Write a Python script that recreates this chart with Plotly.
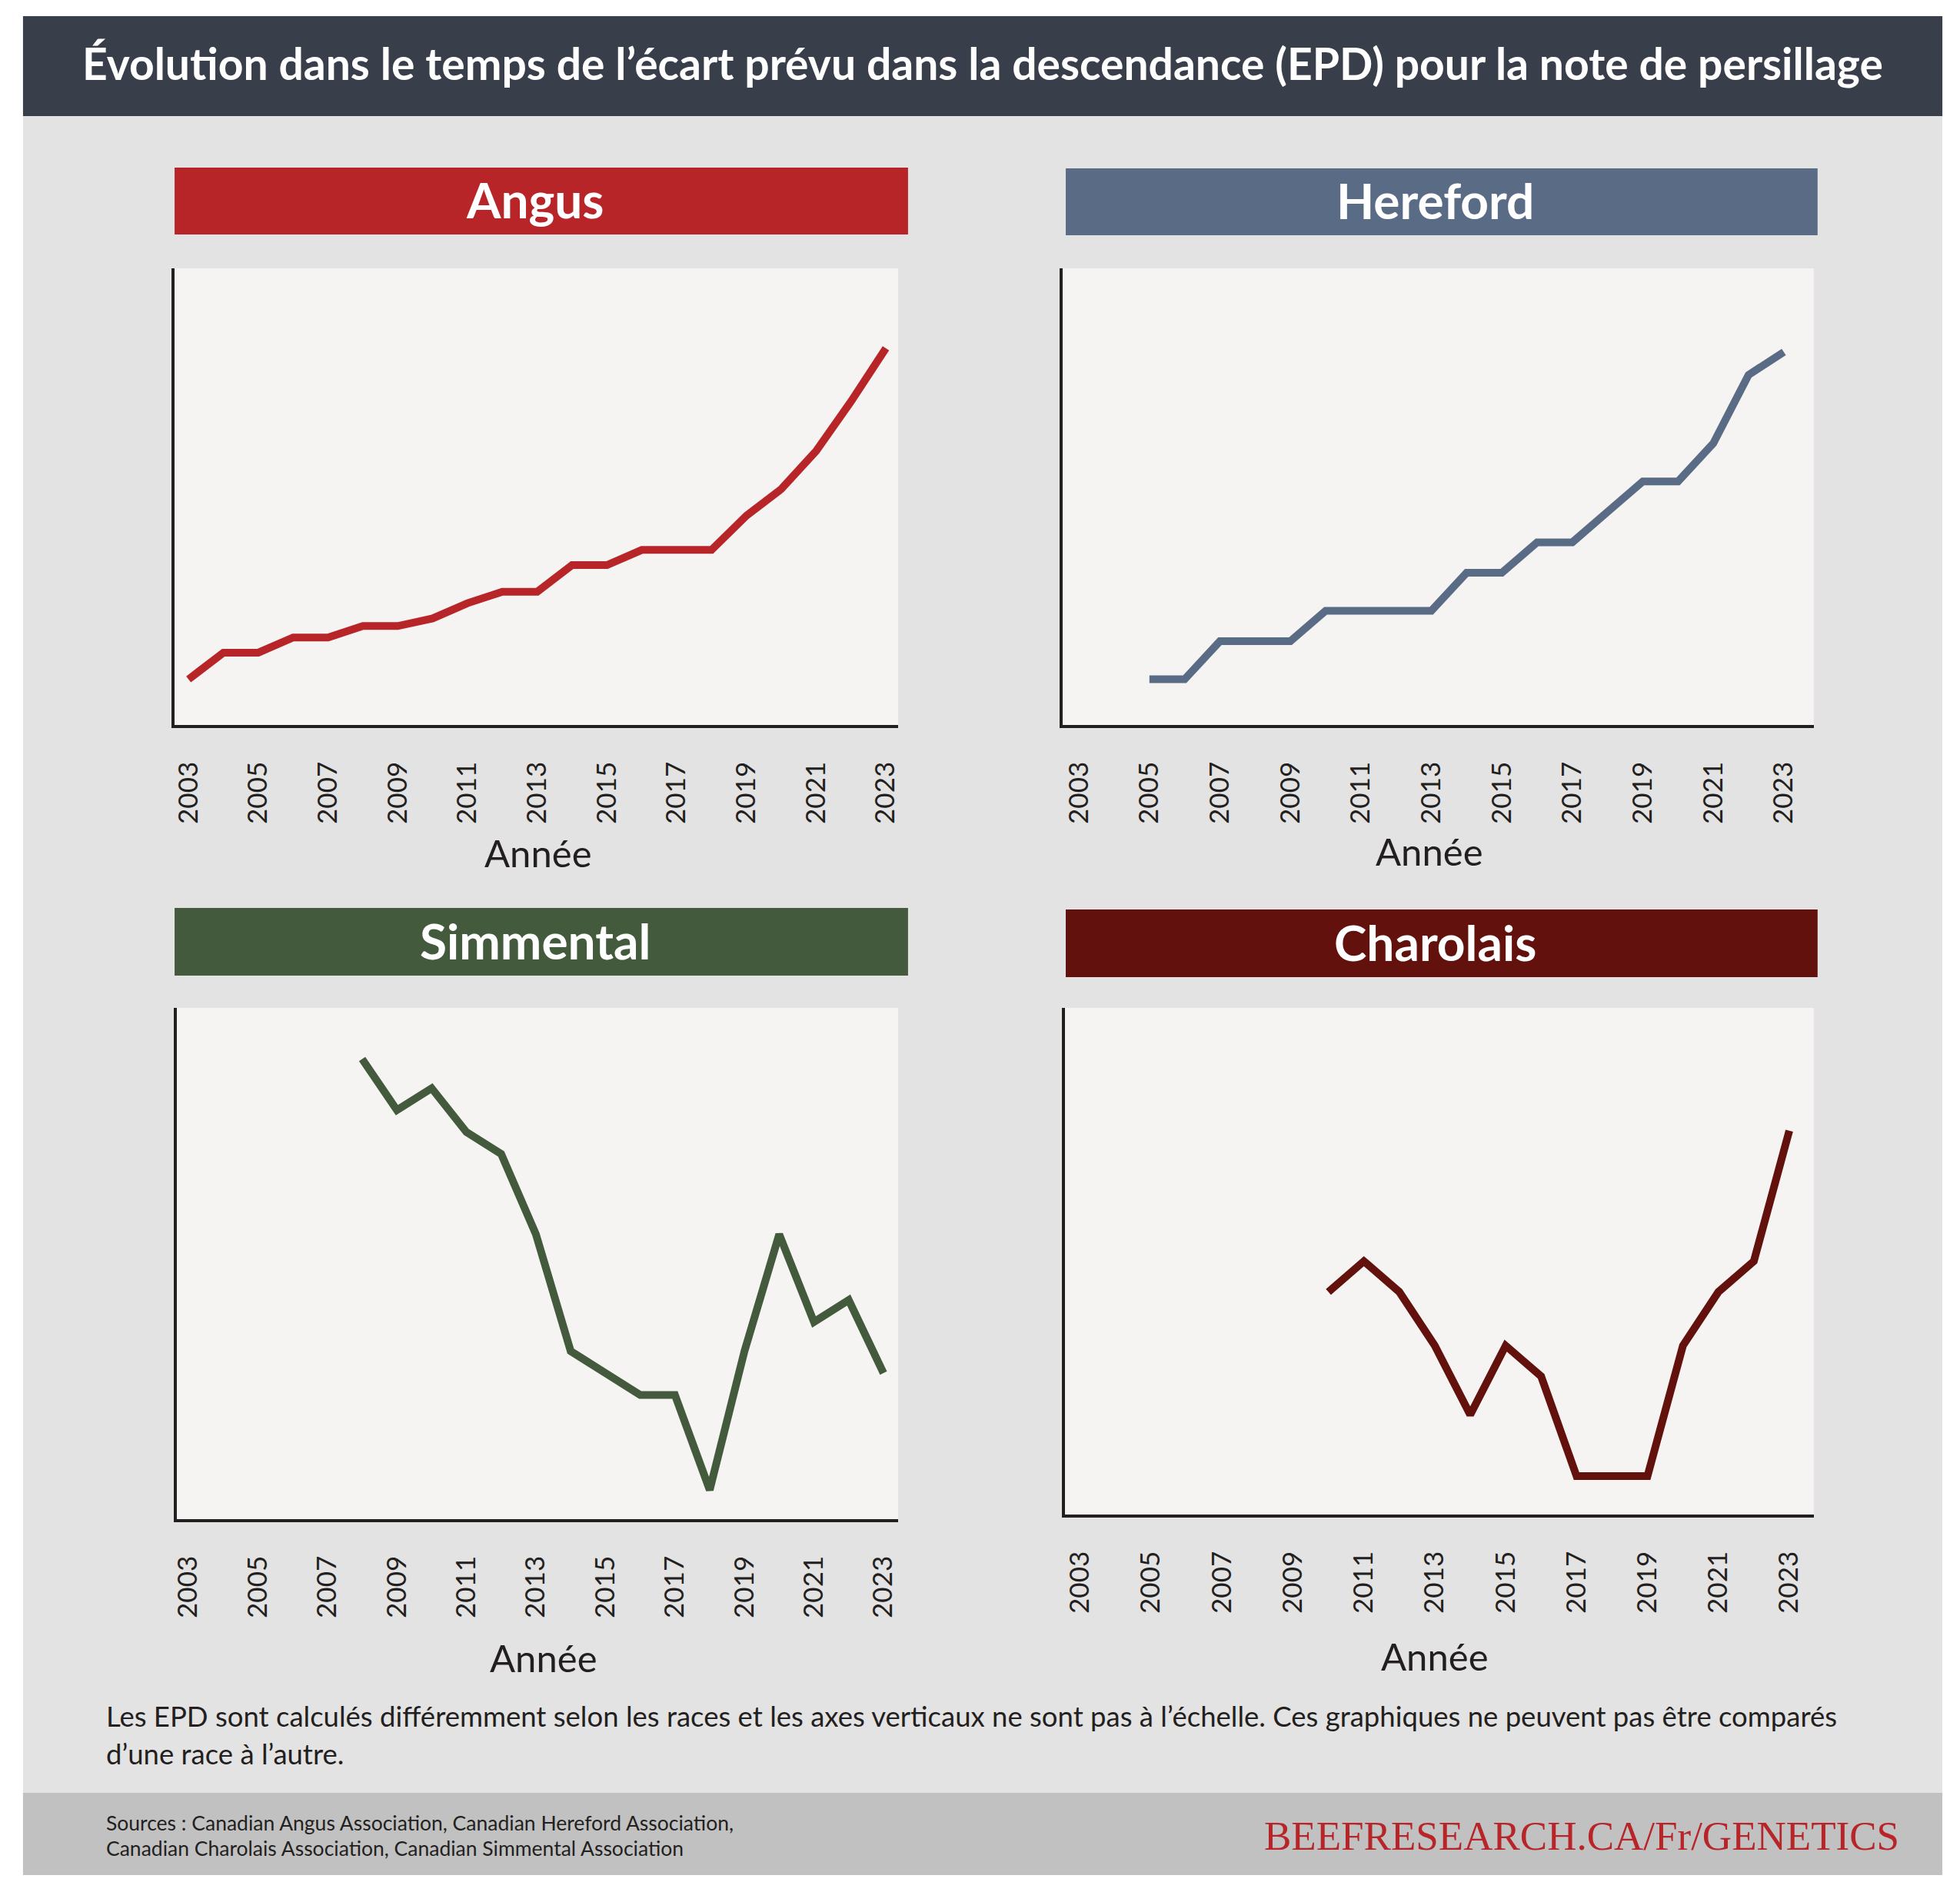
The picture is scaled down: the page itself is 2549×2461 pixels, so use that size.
import plotly.graph_objects as go

W, H = 2549, 2461

# --- data (relative EPD units; vertical axes not to scale) ---
angus_years = list(range(2003, 2024))
angus_epd = [0.12, 0.19, 0.19, 0.23, 0.23, 0.26, 0.26, 0.28, 0.32, 0.35, 0.35,
             0.42, 0.42, 0.46, 0.46, 0.46, 0.55, 0.62, 0.72, 0.85, 0.99]

hereford_years = list(range(2005, 2024))
hereford_epd = [0.06, 0.06, 0.11, 0.11, 0.11, 0.15, 0.15, 0.15, 0.15, 0.20,
                0.20, 0.24, 0.24, 0.28, 0.32, 0.32, 0.37, 0.46, 0.49]

simmental_years = list(range(2008, 2024))
simmental_epd = [0.63, 0.56, 0.59, 0.53, 0.50, 0.39, 0.23, 0.20, 0.17, 0.17,
                 0.04, 0.23, 0.39, 0.27, 0.30, 0.20]

charolais_years = list(range(2010, 2024))
charolais_epd = [0.29, 0.33, 0.29, 0.22, 0.13, 0.22, 0.18, 0.05, 0.05, 0.05,
                 0.22, 0.29, 0.33, 0.50]

tick_years = list(range(2003, 2024, 2))
breeds = ["Angus", "Hereford", "Simmental", "Charolais"]

TITLE = "Évolution dans le temps de l’écart prévu dans la descendance (EPD) pour la note de persillage"
NOTE1 = "Les EPD sont calculés différemment selon les races et les axes verticaux ne sont pas à l’échelle. Ces graphiques ne peuvent pas être comparés"
NOTE2 = "d’une race à l’autre."
SRC1 = "Sources : Canadian Angus Association, Canadian Hereford Association,"
SRC2 = "Canadian Charolais Association, Canadian Simmental Association"
SITE = "BEEFRESEARCH.CA/Fr/GENETICS"

# --- styling ---
colors = {"Angus": "#b72529", "Hereford": "#5a6b85",
          "Simmental": "#435a3c", "Charolais": "#62110d"}
INK = "#231f20"
SANS = "Lato, 'Open Sans', sans-serif"


def fx(px):
    return px / W


def fy(py):
    return 1 - py / H


# panel geometry in pixels: plot box (left, top, right, bottom), banner box, x range, y range
panels = {
    "Angus": dict(box=(219, 349, 1164, 943), banner=(219, 218, 1177, 305),
                  xr=[2002.6, 2023.35], yr=[0, 1.2], label=(694, 1109)),
    "Hereford": dict(box=(1379, 349, 2360, 943), banner=(1383, 219, 2365, 306),
                     xr=[2002.54, 2023.85], yr=[0, 0.6], label=(1858, 1107)),
    "Simmental": dict(box=(222, 1311, 1164, 1976), banner=(219, 1181, 1177, 1269),
                      xr=[2002.67, 2023.42], yr=[0, 0.7], label=(701, 2156)),
    "Charolais": dict(box=(1382, 1311, 2360, 1970), banner=(1383, 1183, 2365, 1271),
                      xr=[2002.57, 2023.69], yr=[0, 0.66], label=(1865, 2154)),
}
series = {
    "Angus": (angus_years, angus_epd),
    "Hereford": (hereford_years, hereford_epd),
    "Simmental": (simmental_years, simmental_epd),
    "Charolais": (charolais_years, charolais_epd),
}

fig = go.Figure()
shapes = []
annotations = []


def rect(x0, y0, x1, y1, color):
    return dict(type="rect", xref="paper", yref="paper",
                x0=fx(x0), x1=fx(x1), y0=fy(y1), y1=fy(y0),
                fillcolor=color, line=dict(width=0), layer="below")


# page blocks
shapes.append(rect(21, 21, 2528, 151, "#393f4a"))
shapes.append(rect(21, 151, 2528, 2332, "#e3e3e3"))
shapes.append(rect(21, 2332, 2528, 2439, "#c1c1c1"))

for i, breed in enumerate(breeds, start=1):
    p = panels[breed]
    l, t, r, b = p["box"]
    shapes.append(rect(l, t, r, b, "#f5f4f2"))
    bl, bt, br, bb = p["banner"]
    shapes.append(rect(bl, bt, br, bb, colors[breed]))
    annotations.append(dict(text="<b>%s</b>" % breed, xref="paper", yref="paper",
                            x=fx((bl + br) / 2 - 8), y=fy((bt + bb) / 2 - 2),
                            showarrow=False, xanchor="center", yanchor="middle",
                            font=dict(family=SANS, size=64, color="white")))
    annotations.append(dict(text="Année", xref="paper", yref="paper",
                            x=fx(p["label"][0]), y=fy(p["label"][1]),
                            showarrow=False, xanchor="center", yanchor="middle",
                            font=dict(family=SANS, size=49, color=INK)))

    xs, ys = series[breed]
    sfx = "" if i == 1 else str(i)
    fig.add_trace(go.Scatter(x=xs, y=ys, mode="lines", name=breed,
                             line=dict(color=colors[breed], width=10),
                             xaxis="x" + sfx, yaxis="y" + sfx,
                             showlegend=False, hoverinfo="x+y"))
    fig.layout["xaxis" + sfx] = dict(
        domain=[fx(l), fx(r)], range=p["xr"], anchor="y" + sfx,
        tickvals=tick_years, tickangle=-90, ticks="", ticklabelstandoff=30,
        tickfont=dict(family=SANS, size=35, color=INK),
        showline=True, linecolor=INK, linewidth=3.5,
        showgrid=False, zeroline=False, fixedrange=True)
    fig.layout["yaxis" + sfx] = dict(
        domain=[fy(b), fy(t)], range=p["yr"], anchor="x" + sfx,
        showticklabels=False, ticks="",
        showline=True, linecolor=INK, linewidth=3.5,
        showgrid=False, zeroline=False, fixedrange=True)

# header title
annotations.append(dict(text="<b>%s</b>" % TITLE, xref="paper", yref="paper",
                        x=fx(1275), y=fy(82), showarrow=False,
                        xanchor="center", yanchor="middle",
                        font=dict(family=SANS, size=57, color="white")))
# note
for txt, yy in [(NOTE1, 2232), (NOTE2, 2281)]:
    annotations.append(dict(text=txt, xref="paper", yref="paper",
                            x=fx(128), y=fy(yy), showarrow=False,
                            xanchor="left", yanchor="middle",
                            font=dict(family=SANS, size=36.5, color=INK)))
# sources
for txt, yy in [(SRC1, 2371), (SRC2, 2404)]:
    annotations.append(dict(text=txt, xref="paper", yref="paper",
                            x=fx(128), y=fy(yy), showarrow=False,
                            xanchor="left", yanchor="middle",
                            font=dict(family=SANS, size=26.5, color=INK)))
annotations.append(dict(text=SITE, xref="paper", yref="paper",
                        x=fx(2474), y=fy(2388), showarrow=False,
                        xanchor="right", yanchor="middle",
                        font=dict(family="'Liberation Serif', 'DejaVu Serif', serif",
                                  size=53, color="#b72529")))

fig.update_layout(width=W, height=H, margin=dict(l=0, r=0, t=0, b=0),
                  paper_bgcolor="white", plot_bgcolor="rgba(0,0,0,0)",
                  shapes=shapes, annotations=annotations, showlegend=False)

fig.write_html("out.html", config={"displayModeBar": False},
               post_script="document.body.style.margin='0';"
                           "document.body.style.overflow='hidden';")
